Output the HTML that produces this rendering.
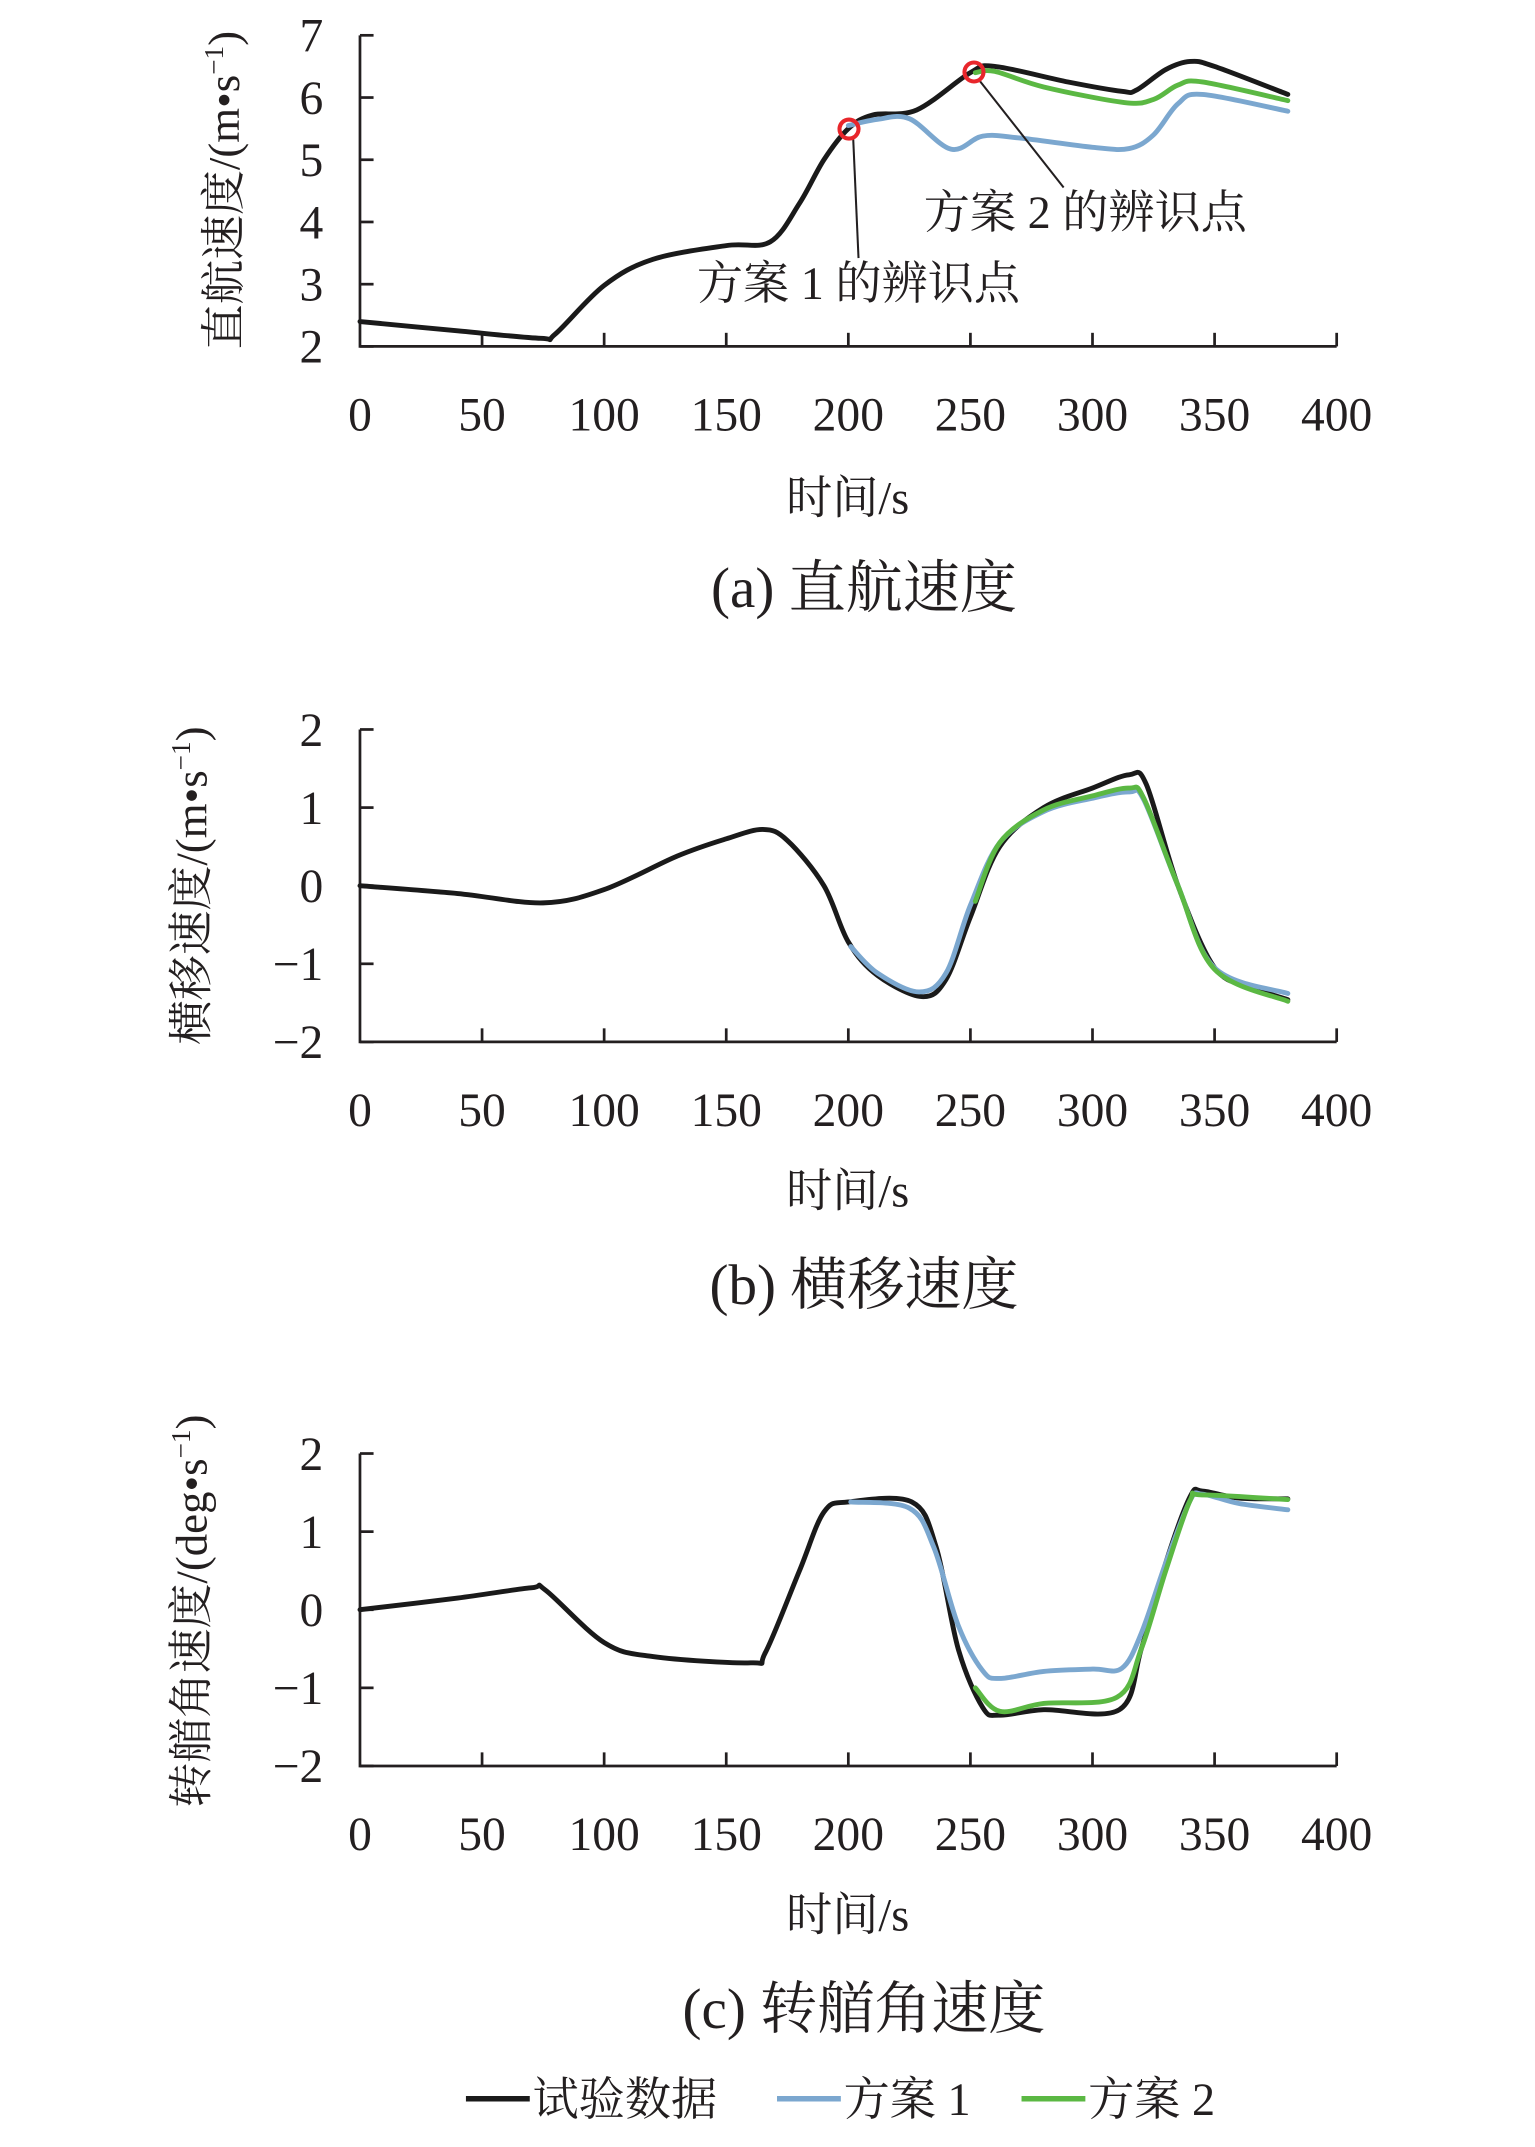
<!DOCTYPE html>
<html><head><meta charset="utf-8"><style>
html,body{margin:0;padding:0;background:#fff;}
svg{display:block;}
text{font-family:"Liberation Serif","Noto Serif CJK SC",serif;fill:#231f20;}
</style></head><body>
<svg id="s" width="1535" height="2147" viewBox="0 0 1130 1580.5" preserveAspectRatio="none" xmlns="http://www.w3.org/2000/svg">
<g id="g"></g>
<text x="636" y="447" font-size="42" text-anchor="middle">(a) 直航速度</text>
<text x="636" y="960" font-size="42" text-anchor="middle">(b) 横移速度</text>
<text x="636" y="1493" font-size="42" text-anchor="middle">(c) 转艏角速度</text>
<text x="624" y="378" font-size="34" text-anchor="middle">时间/s</text>
<text x="624" y="888" font-size="34" text-anchor="middle">时间/s</text>
<text x="624" y="1421" font-size="34" text-anchor="middle">时间/s</text>
<text transform="translate(176,140) rotate(-90)" font-size="33" text-anchor="middle">直航速度/(m•s<tspan dy="-12" font-size="20">−1</tspan><tspan dy="12">)</tspan></text>
<text transform="translate(152,652) rotate(-90)" font-size="33" text-anchor="middle">横移速度/(m•s<tspan dy="-12" font-size="20">−1</tspan><tspan dy="12">)</tspan></text>
<text transform="translate(152,1186) rotate(-90)" font-size="33" text-anchor="middle">转艏角速度/(deg•s<tspan dy="-12" font-size="20">−1</tspan><tspan dy="12">)</tspan></text>
<line x1="628" y1="100" x2="632" y2="190" stroke="#231f20" stroke-width="1.5"/>
<line x1="720" y1="58" x2="783" y2="138" stroke="#231f20" stroke-width="1.5"/>
<circle cx="625" cy="95" r="7" fill="none" stroke="#e8262b" stroke-width="3"/>
<circle cx="717" cy="53" r="7" fill="none" stroke="#e8262b" stroke-width="3"/>
<text x="680" y="168" font-size="34">方案 2 的辨识点</text>
<text x="513" y="220" font-size="34">方案 1 的辨识点</text>
<line x1="343" y1="1545" x2="390" y2="1545" stroke="#1a1a1a" stroke-width="4"/>
<text x="392" y="1557" font-size="34">试验数据</text>
<line x1="572" y1="1545" x2="619" y2="1545" stroke="#7ba7cf" stroke-width="4"/>
<text x="621" y="1557" font-size="34">方案 1</text>
<line x1="752" y1="1545" x2="799" y2="1545" stroke="#5bb843" stroke-width="4"/>
<text x="801" y="1557" font-size="34">方案 2</text>
</svg>
<script>
var g=document.getElementById('g'),NS='http://www.w3.org/2000/svg';
function el(t,a){var e=document.createElementNS(NS,t);for(var k in a)e.setAttribute(k,a[k]);g.appendChild(e);return e;}
function X(t){return 265+t*1.7975;}
function chart(top,bot,ymin,ymax,ticks,lbl){
 function Y(v){return bot-(v-ymin)/(ymax-ymin)*(bot-top);}
 el('path',{d:'M265 '+top+' V'+bot+' H984',fill:'none',stroke:'#231f20','stroke-width':2});
 for(var i=1;i<=8;i++)el('line',{x1:X(i*50),y1:bot,x2:X(i*50),y2:bot-10,stroke:'#231f20','stroke-width':2});
 ticks.forEach(function(v,j){el('line',{x1:265,y1:Y(v),x2:275,y2:Y(v),stroke:'#231f20','stroke-width':2});
  var t=el('text',{x:238,y:Y(v)+12,'font-size':35,'text-anchor':'end'});t.textContent=lbl[j];});
 for(var i=0;i<=8;i++){var t=el('text',{x:X(i*50),y:bot+62,'font-size':35,'text-anchor':'middle'});t.textContent=String(i*50);}
 return Y;
}
function series(Y,pts,col){
 var p=pts.map(function(q){return [X(q[0]),Y(q[1])];});
 var d='M'+p[0][0]+' '+p[0][1];
 for(var i=0;i<p.length-1;i++){var p0=p[i-1]||p[i],p1=p[i],p2=p[i+1],p3=p[i+2]||p2;
  d+=' C'+(p1[0]+(p2[0]-p0[0])/6)+' '+(p1[1]+(p2[1]-p0[1])/6)+' '+(p2[0]-(p3[0]-p1[0])/6)+' '+(p2[1]-(p3[1]-p1[1])/6)+' '+p2[0]+' '+p2[1];}
 el('path',{d:d,fill:'none',stroke:col,'stroke-width':3.6,'stroke-linejoin':'round','stroke-linecap':'round'});
}
var K='#1a1a1a',B='#7ba7cf',G='#5bb843';
var Ya=chart(26,255,2,7,[7,6,5,4,3,2],['7','6','5','4','3','2']);
series(Ya,[[0,2.4],[40,2.25],[74,2.13],[80,2.2],[100,2.98],[120,3.4],[150,3.62],[168,3.68],[180,4.3],[190,5.0],[200,5.5],[210,5.72],[228,5.8],[250,6.4],[260,6.5],[290,6.25],[312,6.1],[318,6.12],[330,6.45],[340,6.58],[350,6.5],[380,6.05]],K);
series(Ya,[[200,5.55],[212,5.65],[225,5.66],[242,5.17],[255,5.38],[270,5.35],[300,5.2],[315,5.18],[325,5.4],[335,5.9],[345,6.05],[380,5.78]],B);
series(Ya,[[252,6.4],[260,6.42],[280,6.17],[313,5.92],[325,5.97],[335,6.2],[345,6.25],[380,5.95]],G);
var Yb=chart(537,767,-2,2,[2,1,0,-1,-2],['2','1','0','−1','−2']);
series(Yb,[[0,0],[40,-0.1],[75,-0.22],[100,-0.05],[130,0.38],[150,0.6],[165,0.72],[175,0.58],[190,0],[200,-0.72],[212,-1.15],[230,-1.42],[240,-1.2],[250,-0.4],[262,0.5],[280,1.0],[300,1.25],[315,1.42],[322,1.3],[335,0],[350,-1.05],[365,-1.3],[380,-1.46]],K);
series(Yb,[[201,-0.78],[212,-1.12],[229,-1.36],[240,-1.12],[250,-0.25],[262,0.55],[280,0.95],[300,1.12],[315,1.2],[321,1.1],[335,0],[350,-1.05],[380,-1.38]],B);
series(Yb,[[252,-0.2],[262,0.55],[280,0.97],[300,1.15],[315,1.25],[321,1.12],[335,0],[350,-1.07],[380,-1.48]],G);
var Yc=chart(1070,1300,-2,2,[2,1,0,-1,-2],['2','1','0','−1','−2']);
series(Yc,[[0,0],[40,0.15],[70,0.28],[76,0.25],[100,-0.42],[120,-0.6],[160,-0.68],[166,-0.55],[180,0.5],[190,1.25],[200,1.38],[226,1.38],[236,0.8],[245,-0.5],[255,-1.25],[262,-1.35],[280,-1.28],[311,-1.28],[320,-0.5],[330,0.6],[340,1.45],[345,1.52],[360,1.43],[380,1.42]],K);
series(Yc,[[201,1.38],[225,1.3],[235,0.8],[245,-0.2],[255,-0.78],[262,-0.88],[280,-0.79],[300,-0.76],[312,-0.75],[320,-0.3],[330,0.6],[340,1.4],[345,1.48],[360,1.36],[380,1.28]],B);
series(Yc,[[252,-1.0],[262,-1.3],[280,-1.2],[310,-1.12],[320,-0.5],[330,0.5],[340,1.4],[345,1.47],[380,1.41]],G);
</script>
</body></html>
